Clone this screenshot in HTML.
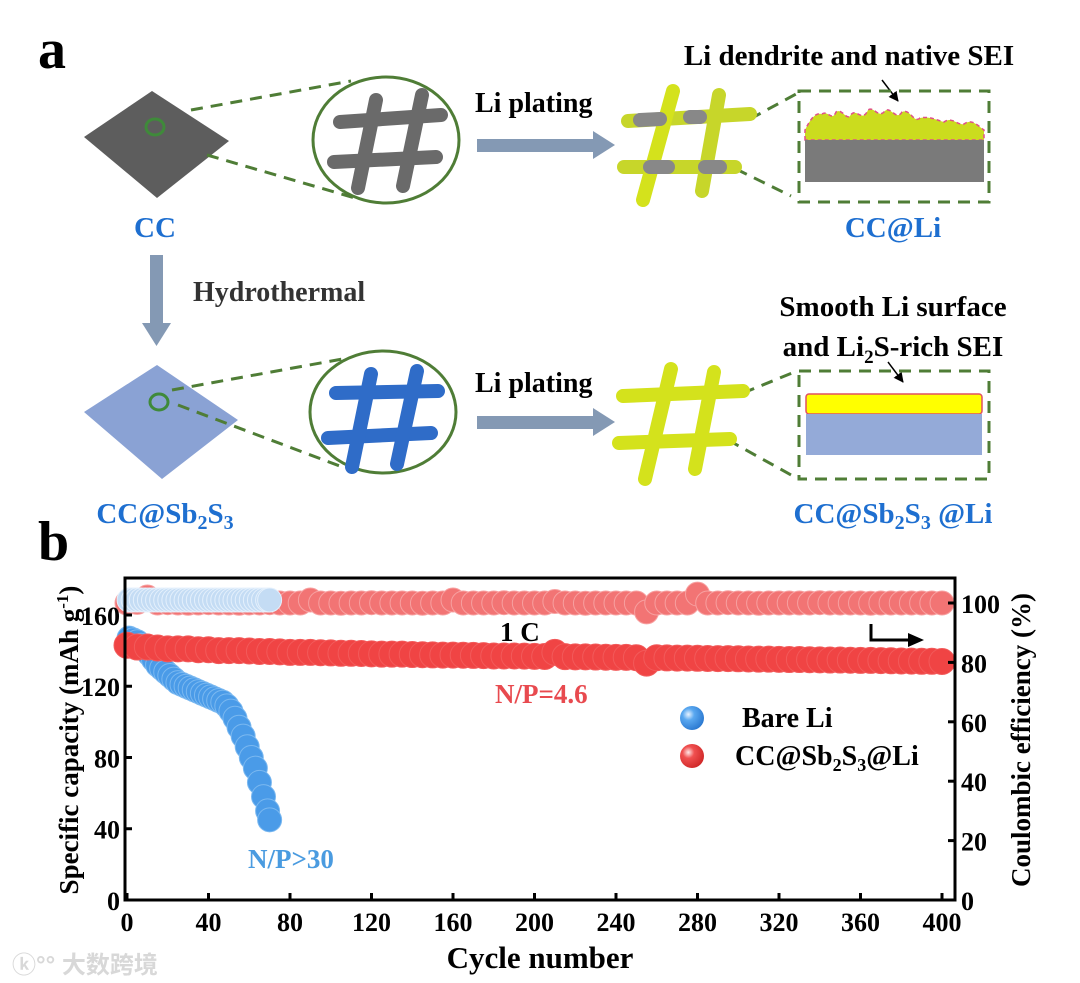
<!DOCTYPE html>
<html><head><meta charset="utf-8"><style>
html,body{margin:0;padding:0;background:#fff}
svg{display:block}
text{font-family:"Liberation Serif","Noto Serif CJK SC",serif;font-weight:bold}
</style></head><body>
<svg id="fig" width="1080" height="983" viewBox="0 0 1080 983" xmlns="http://www.w3.org/2000/svg">
<defs>
<radialGradient id="gBlue" cx="0.35" cy="0.35" r="0.7"><stop offset="0" stop-color="#e8f3ff"/><stop offset="0.35" stop-color="#5aa8f0"/><stop offset="1" stop-color="#2a78d0"/></radialGradient>
<radialGradient id="gRed" cx="0.35" cy="0.35" r="0.7"><stop offset="0" stop-color="#ffe8e8"/><stop offset="0.35" stop-color="#f05050"/><stop offset="1" stop-color="#d02828"/></radialGradient>
<marker id="ah" markerWidth="10" markerHeight="10" refX="9" refY="5" orient="auto" markerUnits="userSpaceOnUse"><path d="M0,0 L10,5 L0,10 Z" fill="#000"/></marker>
</defs>

<text x="38" y="68" font-size="56">a</text>

<polygon points="84,137 152,91 229,141 157,198" fill="#5d5d5d"/>
<ellipse cx="155" cy="127" rx="9" ry="8" fill="none" stroke="#3f8a3a" stroke-width="3"/>
<g stroke="#4f7d36" stroke-width="3" stroke-dasharray="12,8" fill="none">
<line x1="191" y1="110" x2="351" y2="81"/><line x1="207" y1="155" x2="355" y2="198"/>
<line x1="750" y1="119" x2="798" y2="93"/><line x1="736" y1="169" x2="791" y2="196"/>
</g>
<ellipse cx="386" cy="140" rx="73" ry="63" fill="#fff" stroke="#4f7d36" stroke-width="3"/>
<g stroke="#6a6a6a" stroke-width="14" stroke-linecap="round">
<line x1="340" y1="122" x2="441" y2="115"/><line x1="334" y1="162" x2="436" y2="157"/>
<line x1="358" y1="188" x2="376" y2="100"/><line x1="403" y1="186" x2="422" y2="95"/>
</g>
<text x="475" y="112" font-size="28">Li plating</text>
<g><rect x="477" y="139" width="118" height="13" fill="#8499b4"/><polygon points="593,131 615,145 593,159" fill="#8499b4"/></g>
<g stroke-width="14" stroke-linecap="round">
<line x1="628" y1="121" x2="750" y2="114" stroke="#c7d62a"/><line x1="624" y1="167" x2="735" y2="167" stroke="#c7d62a"/>
<line x1="643" y1="200" x2="673" y2="91" stroke="#d4e21c"/><line x1="702" y1="191" x2="719" y2="95" stroke="#c7d62a"/>
<line x1="640" y1="120" x2="660" y2="119" stroke="#888"/><line x1="690" y1="117" x2="700" y2="117" stroke="#888"/><line x1="650" y1="167" x2="668" y2="167" stroke="#888"/><line x1="705" y1="167" x2="720" y2="167" stroke="#888"/>
</g>
<text x="849" y="65" font-size="29" text-anchor="middle">Li dendrite and native SEI</text>
<line x1="882" y1="80" x2="898" y2="101" stroke="#000" stroke-width="1.5" marker-end="url(#ah)"/>
<rect x="799" y="91" width="190" height="111" fill="none" stroke="#4f7d36" stroke-width="3" stroke-dasharray="12,8"/>
<path d="M805,140 L805,130 C810,120 815,112 822,114 C828,110 832,122 836,112 C842,108 846,120 850,116 C856,106 862,124 868,110 C874,106 878,118 884,112 C890,104 896,122 902,112 C910,108 914,124 920,118 C930,116 936,120 944,122 C952,116 958,126 964,124 C972,118 978,126 984,130 L984,140 Z" fill="#cbdc1e" stroke="#e0508a" stroke-width="1.5" stroke-dasharray="4,3"/>
<rect x="805" y="140" width="179" height="42" fill="#7a7a7a"/>
<text x="155" y="237" font-size="29" fill="#1e6fd0" text-anchor="middle">CC</text>
<text x="893" y="237" font-size="29" fill="#1e6fd0" text-anchor="middle">CC@Li</text>

<g><rect x="150" y="255" width="13" height="70" fill="#8499b4"/><polygon points="142,323 171,323 156.5,346" fill="#8499b4"/></g>
<text x="193" y="301" font-size="28" fill="#333">Hydrothermal</text>

<polygon points="84,412 157,365 238,420 162,479" fill="#8aa2d4"/>
<ellipse cx="159" cy="402" rx="9" ry="8" fill="none" stroke="#3f8a3a" stroke-width="3"/>
<g stroke="#4f7d36" stroke-width="3" stroke-dasharray="12,8" fill="none">
<line x1="172" y1="390" x2="348" y2="358"/><line x1="178" y1="405" x2="345" y2="468"/>
<line x1="743" y1="393" x2="797" y2="371"/><line x1="728" y1="440" x2="793" y2="476"/>
</g>
<ellipse cx="383" cy="412" rx="73" ry="61" fill="#fff" stroke="#4f7d36" stroke-width="3"/>
<g stroke="#2f6cc8" stroke-width="14" stroke-linecap="round">
<line x1="336" y1="393" x2="438" y2="391"/><line x1="328" y1="438" x2="431" y2="433"/>
<line x1="352" y1="467" x2="371" y2="374"/><line x1="397" y1="464" x2="417" y2="371"/>
</g>
<text x="475" y="392" font-size="28">Li plating</text>
<g><rect x="477" y="416" width="118" height="13" fill="#8499b4"/><polygon points="593,408 615,422 593,436" fill="#8499b4"/></g>
<g stroke="#d4e21c" stroke-width="14" stroke-linecap="round">
<line x1="623" y1="396" x2="743" y2="391"/><line x1="619" y1="443" x2="730" y2="439"/>
<line x1="645" y1="479" x2="671" y2="369"/><line x1="695" y1="469" x2="714" y2="372"/>
</g>
<text x="893" y="316" font-size="29" text-anchor="middle">Smooth Li surface</text>
<text x="893" y="356" font-size="29" text-anchor="middle">and Li<tspan font-size="19" dy="7">2</tspan><tspan dy="-7">S-rich SEI</tspan></text>
<line x1="888" y1="362" x2="903" y2="382" stroke="#000" stroke-width="1.5" marker-end="url(#ah)"/>
<rect x="799" y="371" width="190" height="108" fill="none" stroke="#4f7d36" stroke-width="3" stroke-dasharray="12,8"/>
<rect x="806" y="394" width="176" height="20" rx="3" fill="#ffff00" stroke="#e05060" stroke-width="1.5"/>
<rect x="806" y="414" width="176" height="41" fill="#94aad8"/>
<text x="165" y="523" font-size="29" fill="#1e6fd0" text-anchor="middle">CC@Sb<tspan font-size="20" dy="6">2</tspan><tspan dy="-6">S</tspan><tspan font-size="20" dy="6">3</tspan></text>
<text x="893" y="523" font-size="29" fill="#1e6fd0" text-anchor="middle">CC@Sb<tspan font-size="20" dy="6">2</tspan><tspan dy="-6">S</tspan><tspan font-size="20" dy="6">3</tspan><tspan dy="-6"> @Li</tspan></text>

<text x="38" y="560" font-size="56">b</text>
<g id="chart"></g>
<text x="12" y="973" font-size="24" fill="#d8d8d8" style="font-family:'Liberation Sans','Noto Sans CJK SC',sans-serif">ⓚ°° 大数跨境</text>
</svg>
<script>
// ---- chart data ----
const xTicks = [0,40,80,120,160,200,240,280,320,360,400];
const yLeftTicks = [0,40,80,120,160];
const yRightTicks = [0,20,40,60,80,100];
const redCycles = [0,5,10,15,20,25,30,35,40,45,50,55,60,65,70,75,80,85,90,95,100,105,110,115,120,125,130,135,140,145,150,155,160,165,170,175,180,185,190,195,200,205,210,215,220,225,230,235,240,245,250,255,260,265,270,275,280,285,290,295,300,305,310,315,320,325,330,335,340,345,350,355,360,365,370,375,380,385,390,395,400];
const redCapacity = [143,142,142,141.5,141,141,141,140.5,140.5,140,140,140,139.8,139.5,139.5,139.3,139,139,139,138.8,138.7,138.5,138.5,138.4,138.2,138,138,138,137.8,137.7,137.6,137.5,137.5,137.4,137.3,137.2,137,137,137,136.9,136.8,136.7,139,136.6,136.5,136.5,136.4,136.3,136.2,136.2,136,133,136,135.9,135.8,135.8,135.7,135.6,135.5,135.5,135.4,135.3,135.2,135.2,135.1,135,135,134.9,134.8,134.7,134.7,134.6,134.5,134.5,134.4,134.3,134.2,134.1,134,134,133.9];
const redCE = [100,100.2,102,100,100.1,100,99.9,100,100.1,100,100,99.9,100,100,100.1,100,100,100,101,100,100,99.9,100,100,100.1,100,100,100,100,99.9,100,100,101,100,100,100,100,100.1,100,100,100,100,100.5,100,100,99.9,100,100,100,100,100,97,100,100,100,100,103,100,100,100.1,100,100,99.9,100,100,100,100,100,100.1,100,100,100,100,99.9,100,100,100,100,100,100,100];
const blueCycles = [1,3,5,7,9,11,13,15,17,19,21,23,25,27,29,31,33,35,37,39,41,43,45,47,49,51,53,55,57,59,61,63,65,67,69,70];
const blueCapacity = [147,146,145,143,141,138,135,132,130,128,126,124,122,121,120,119,118,117,116,115,114,113,112,111,109,106,102,97,92,86,80,74,66,58,50,45];
const blueCE = [101,101,101,101,101,101,101,101,101,101,101,101,101,101,101,101,101,101,101,101,101,101,101,101,101,101,101,101,101,101,101,101,101,101,101,101];

const NS = "http://www.w3.org/2000/svg";
const chart = document.getElementById('chart');
const X0=127, X1=942, AX_L=125, AX_R=955, AX_T=578, AX_B=900;
const xS = v => X0 + (v/400)*(X1-X0);
const yL = v => 900 - v*1.7813;
const yR = v => 900 - v*2.97;
function mk(tag, attrs, parent){const e=document.createElementNS(NS,tag);for(const k in attrs)e.setAttribute(k,attrs[k]);(parent||chart).appendChild(e);return e;}
function txt(x,y,s,size,anchor,fill){const t=mk('text',{x:x,y:y,'font-size':size,'text-anchor':anchor||'start',fill:fill||'#000'});t.textContent=s;return t;}

redCycles.forEach((c,i)=>{
  const e=mk('circle',{cx:xS(c),cy:yR(redCE[i]),r:12,fill:'#f27474',stroke:'#f7a0a0','stroke-width':1});
  
  
});
blueCycles.forEach((c,i)=>{
  const e=mk('circle',{cx:xS(c),cy:yR(blueCE[i]),r:12,fill:'#c4dcf4',stroke:'#e4f0fc','stroke-width':1});
  
  
});
blueCycles.forEach((c,i)=>{
  const e=mk('circle',{cx:xS(c),cy:yL(blueCapacity[i]),r:12,fill:'#4a9be8',stroke:'#7ab8f0','stroke-width':1});
  
  
});
redCycles.forEach((c,i)=>{
  const e=mk('circle',{cx:xS(c),cy:yL(redCapacity[i]),r:13,fill:'#f04444',stroke:'#f25a5a','stroke-width':1});
  
  
});

const fr=mk('rect',{x:AX_L,y:AX_T,width:AX_R-AX_L,height:AX_B-AX_T,fill:'none',stroke:'#000','stroke-width':3});


xTicks.forEach(v=>{
  const t=mk('line',{x1:xS(v),y1:AX_B,x2:xS(v),y2:AX_B-7,stroke:'#000','stroke-width':3});
  
  
  const l=txt(xS(v),931,String(v),26,'middle');
  
  
});
yLeftTicks.forEach(v=>{
  const t=mk('line',{x1:AX_L,y1:yL(v),x2:AX_L+7,y2:yL(v),stroke:'#000','stroke-width':3});
  
  
  const l=txt(AX_L-5,yL(v)+10,String(v),26,'end');
  
  
});
yRightTicks.forEach(v=>{
  const t=mk('line',{x1:AX_R,y1:yR(v),x2:AX_R-7,y2:yR(v),stroke:'#000','stroke-width':3});
  
  
  const l=txt(AX_R+6,yR(v)+10,String(v),26,'start');
  
  
});
</script>
<script>
(function(){
const NS="http://www.w3.org/2000/svg";
const chart=document.getElementById('chart');
const g=document.createElementNS(NS,'g');
g.innerHTML=
'<text x="540" y="968" font-size="31" text-anchor="middle">Cycle number</text>'+
'<text transform="translate(78,740) rotate(-90)" font-size="27" text-anchor="middle">Specific capacity (mAh g<tspan font-size="17" dy="-10">-1</tspan><tspan dy="10">)</tspan></text>'+
'<text transform="translate(1030,740) rotate(-90)" font-size="27" text-anchor="middle">Coulombic efficiency (%)</text>'+
'<text x="500" y="641" font-size="27">1 C</text>'+
'<text x="495" y="703" font-size="27" fill="#e84a4f">N/P=4.6</text>'+
'<text x="248" y="868" font-size="27" fill="#4a9be0">N/P&gt;30</text>'+
'<path d="M871,624 L871,640 L920,640" fill="none" stroke="#000" stroke-width="3"/>'+
'<polygon points="908,633 924,640 908,647" fill="#000"/>'+
'<g>'+
'<circle cx="692" cy="718" r="12" fill="url(#gBlue)"/>'+
'<text x="742" y="727" font-size="28">Bare Li</text>'+
'<circle cx="692" cy="756" r="12" fill="url(#gRed)"/>'+
'<text x="735" y="765" font-size="28">CC@Sb<tspan font-size="18" dy="6">2</tspan><tspan dy="-6">S</tspan><tspan font-size="18" dy="6">3</tspan><tspan dy="-6">@Li</tspan></text>'+
'</g>';


chart.appendChild(g);
})();
</script>
</body></html>
